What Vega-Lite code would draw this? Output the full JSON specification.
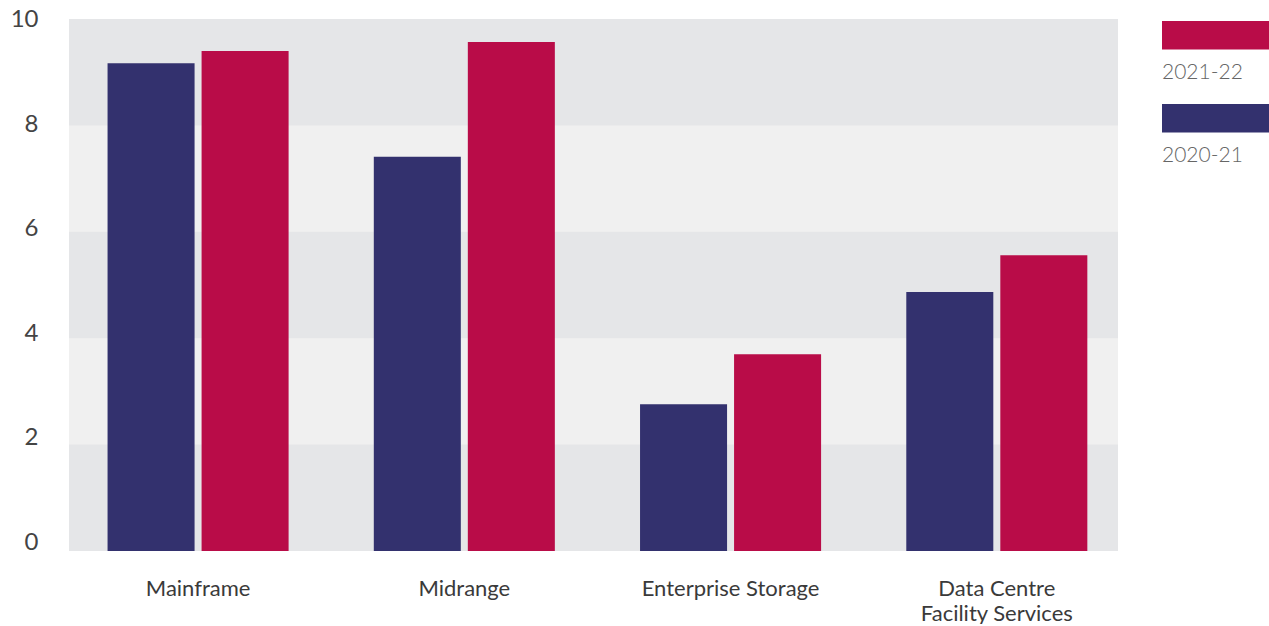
{
  "$schema": "https://vega.github.io/schema/vega-lite/v6.json",
  "width": 1049,
  "height": 532,
  "padding": {"left": 10, "top": 7, "right": 0, "bottom": 0},
  "autosize": {"type": "pad"},
  "config": {"view": {"fill": "#f0f0f0", "stroke": null}, "font": "Lato"},
  "datasets": {
    "bars": [
      {"category": "Mainframe", "year": "2020-21", "value": 9.17},
      {"category": "Mainframe", "year": "2021-22", "value": 9.40},
      {"category": "Midrange", "year": "2020-21", "value": 7.41},
      {"category": "Midrange", "year": "2021-22", "value": 9.57},
      {"category": "Enterprise Storage", "year": "2020-21", "value": 2.76},
      {"category": "Enterprise Storage", "year": "2021-22", "value": 3.70},
      {"category": "Data Centre Facility Services", "year": "2020-21", "value": 4.87},
      {"category": "Data Centre Facility Services", "year": "2021-22", "value": 5.56}
    ],
    "bands": [
      {"lo": 0, "hi": 2},
      {"lo": 4, "hi": 6},
      {"lo": 8, "hi": 10}
    ]
  },
  "layer": [
    {
      "data": {"name": "bands"},
      "mark": {"type": "rect", "color": "#e5e6e8"},
      "encoding": {
        "y": {
          "field": "lo",
          "type": "quantitative",
          "scale": {"domain": [0, 10], "nice": false},
          "axis": {
            "title": null,
            "values": [0, 2, 4, 6, 8, 10],
            "ticks": false,
            "domain": false,
            "grid": false,
            "labelPadding": 31,
            "labelFont": "Lato",
            "labelFontSize": 24,
            "labelColor": "#444444",
            "labelOffset": {"expr": "datum.value * 0.9 - 8.5"}
          }
        },
        "y2": {"field": "hi"}
      }
    },
    {
      "data": {"name": "bars"},
      "mark": {"type": "bar"},
      "encoding": {
        "x": {
          "field": "category",
          "type": "nominal",
          "sort": ["Mainframe", "Midrange", "Enterprise Storage", "Data Centre Facility Services"],
          "scale": {"paddingInner": 0.32, "paddingOuter": 0.13, "align": 0.557},
          "axis": {
            "title": null,
            "labelAngle": 0,
            "ticks": false,
            "domain": false,
            "labelPadding": 27,
            "labelFont": "Lato",
            "labelFontSize": 22,
            "labelColor": "#3a3a3a",
            "labelLineHeight": 25,
            "labelLimit": 400,
            "labelExpr": "datum.value == 'Data Centre Facility Services' ? ['Data Centre', 'Facility Services'] : datum.value"
          }
        },
        "xOffset": {
          "field": "year",
          "type": "nominal",
          "sort": ["2020-21", "2021-22"],
          "scale": {"paddingInner": 0.0745}
        },
        "y": {"field": "value", "type": "quantitative"},
        "color": {
          "field": "year",
          "type": "nominal",
          "scale": {"domain": ["2021-22", "2020-21"], "range": ["#b90c48", "#33316e"]},
          "legend": {
            "orient": "right",
            "offset": 44,
            "title": null,
            "padding": 0,
            "symbolType": "M-1,-0.963H1V-0.435H-1Z",
            "symbolSize": 11664,
            "symbolStrokeWidth": 0,
            "labelOffset": -108,
            "labelFont": "Lato",
            "labelFontSize": 21,
            "labelFontWeight": 300,
            "labelColor": "#666666",
            "labelLimit": 200,
            "rowPadding": 19
          }
        }
      }
    }
  ]
}
